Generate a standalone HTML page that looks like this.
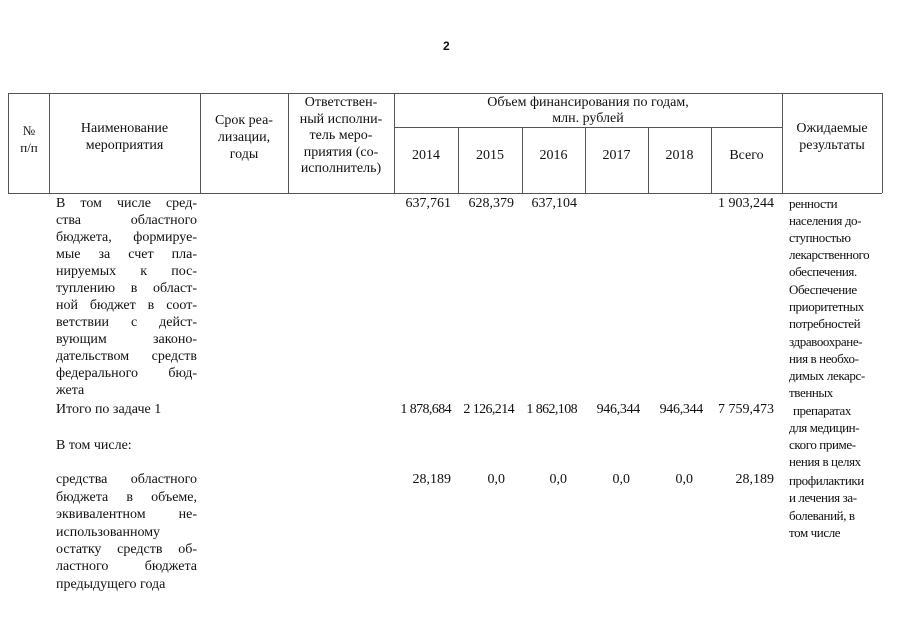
<!DOCTYPE html>
<html><head><meta charset="utf-8"><style>
body{margin:0;width:905px;height:640px;background:#fff;position:relative;overflow:hidden;font-family:"Liberation Serif","DejaVu Serif",serif;color:#111}
.l{position:absolute;background:#555}
.h{height:1px}.v{width:1px}
.t{position:absolute;font-size:14px;line-height:17px;white-space:nowrap}
.c{text-align:center}
.j{position:absolute;width:141px;left:56px;font-size:14px;line-height:17px;text-align:justify;text-align-last:justify;white-space:nowrap}
.n{position:absolute;font-size:14px;line-height:17px;text-align:right;white-space:nowrap}
.r{position:absolute;left:789px;font-size:13px;line-height:17px;letter-spacing:-0.4px;white-space:nowrap}
</style></head><body>
<div class="t" style="left:443px;top:38px;font-size:12px;font-family:'Liberation Sans',sans-serif;font-weight:bold">2</div>
<div class="l h" style="left:8px;width:874px;top:93px"></div>
<div class="l h" style="left:8px;width:874px;top:193px"></div>
<div class="l h" style="left:394px;width:388px;top:127px"></div>
<div class="l v" style="left:8px;top:93px;height:100px"></div>
<div class="l v" style="left:49px;top:93px;height:100px"></div>
<div class="l v" style="left:200px;top:93px;height:100px"></div>
<div class="l v" style="left:288px;top:93px;height:100px"></div>
<div class="l v" style="left:394px;top:93px;height:100px"></div>
<div class="l v" style="left:458px;top:127px;height:66px"></div>
<div class="l v" style="left:522px;top:127px;height:66px"></div>
<div class="l v" style="left:585px;top:127px;height:66px"></div>
<div class="l v" style="left:648px;top:127px;height:66px"></div>
<div class="l v" style="left:711px;top:127px;height:66px"></div>
<div class="l v" style="left:782px;top:93px;height:100px"></div>
<div class="l v" style="left:882px;top:93px;height:100px"></div>
<div class="t c" style="left:9px;width:40px;top:122px;font-size:13px">№<br>п/п</div>
<div class="t c" style="left:49px;width:151px;top:120px">Наименование<br>мероприятия</div>
<div class="t c" style="left:200px;width:88px;top:112px">Срок реа-<br>лизации,<br>годы</div>
<div class="t c" style="left:288px;width:106px;top:95px;line-height:16.5px">Ответствен-<br>ный исполни-<br>тель меро-<br>приятия (со-<br>исполнитель)</div>
<div class="t c" style="left:394px;width:388px;top:95px;line-height:16px">Объем финансирования по годам,<br>млн. рублей</div>
<div class="t c" style="left:394px;width:64px;top:147px">2014</div>
<div class="t c" style="left:458px;width:64px;top:147px">2015</div>
<div class="t c" style="left:522px;width:63px;top:147px">2016</div>
<div class="t c" style="left:585px;width:63px;top:147px">2017</div>
<div class="t c" style="left:648px;width:63px;top:147px">2018</div>
<div class="t c" style="left:711px;width:71px;top:147px">Всего</div>
<div class="t c" style="left:782px;width:100px;top:120px">Ожидаемые<br>результаты</div>
<div class="j" style="top:195px">В том числе сред-</div>
<div class="j" style="top:212px">ства областного</div>
<div class="j" style="top:229px">бюджета, формируе-</div>
<div class="j" style="top:246px">мые за счет пла-</div>
<div class="j" style="top:263px">нируемых к пос-</div>
<div class="j" style="top:280px">туплению в област-</div>
<div class="j" style="top:297px">ной бюджет в соот-</div>
<div class="j" style="top:314px">ветствии с дейст-</div>
<div class="j" style="top:331px">вующим законо-</div>
<div class="j" style="top:348px">дательством средств</div>
<div class="j" style="top:365px">федерального бюд-</div>
<div class="t" style="left:56px;top:382px">жета</div>
<div class="t" style="left:56px;top:401px">Итого по задаче 1</div>
<div class="t" style="left:56px;top:437px">В том числе:</div>
<div class="j" style="top:471px">средства областного</div>
<div class="j" style="top:489px">бюджета в объеме,</div>
<div class="j" style="top:506px">эквивалентном не-</div>
<div class="t" style="left:56px;top:524px">использованному</div>
<div class="j" style="top:541px">остатку средств об-</div>
<div class="j" style="top:558px">ластного бюджета</div>
<div class="t" style="left:56px;top:576px">предыдущего года</div>
<div class="n" style="right:454px;top:195px">637,761</div>
<div class="n" style="right:391px;top:195px">628,379</div>
<div class="n" style="right:328px;top:195px">637,104</div>
<div class="n" style="right:131px;top:195px">1 903,244</div>
<div class="n" style="right:454px;top:401px;letter-spacing:-0.6px">1 878,684</div>
<div class="n" style="right:391px;top:401px;letter-spacing:-0.6px">2 126,214</div>
<div class="n" style="right:328px;top:401px;letter-spacing:-0.6px">1 862,108</div>
<div class="n" style="right:265px;top:401px;letter-spacing:-0.3px">946,344</div>
<div class="n" style="right:202px;top:401px;letter-spacing:-0.3px">946,344</div>
<div class="n" style="right:131px;top:401px">7 759,473</div>
<div class="n" style="right:454px;top:471px">28,189</div>
<div class="n" style="right:400px;top:471px">0,0</div>
<div class="n" style="right:338px;top:471px">0,0</div>
<div class="n" style="right:275px;top:471px">0,0</div>
<div class="n" style="right:212px;top:471px">0,0</div>
<div class="n" style="right:131px;top:471px">28,189</div>
<div class="r" style="top:195px">ренности</div>
<div class="r" style="top:212px">населения до-</div>
<div class="r" style="top:229px">ступностью</div>
<div class="r" style="top:246px">лекарственного</div>
<div class="r" style="top:263px">обеспечения.</div>
<div class="r" style="top:281px">Обеспечение</div>
<div class="r" style="top:298px">приоритетных</div>
<div class="r" style="top:315px">потребностей</div>
<div class="r" style="top:333px">здравоохране-</div>
<div class="r" style="top:350px">ния в необхо-</div>
<div class="r" style="top:367px">димых лекарс-</div>
<div class="r" style="top:384px">твенных</div>
<div class="r" style="top:402px;left:793px">препаратах</div>
<div class="r" style="top:419px">для медицин-</div>
<div class="r" style="top:436px">ского приме-</div>
<div class="r" style="top:453px">нения в целях</div>
<div class="r" style="top:472px">профилактики</div>
<div class="r" style="top:489px">и лечения за-</div>
<div class="r" style="top:507px">болеваний, в</div>
<div class="r" style="top:524px">том числе</div>
</body></html>
